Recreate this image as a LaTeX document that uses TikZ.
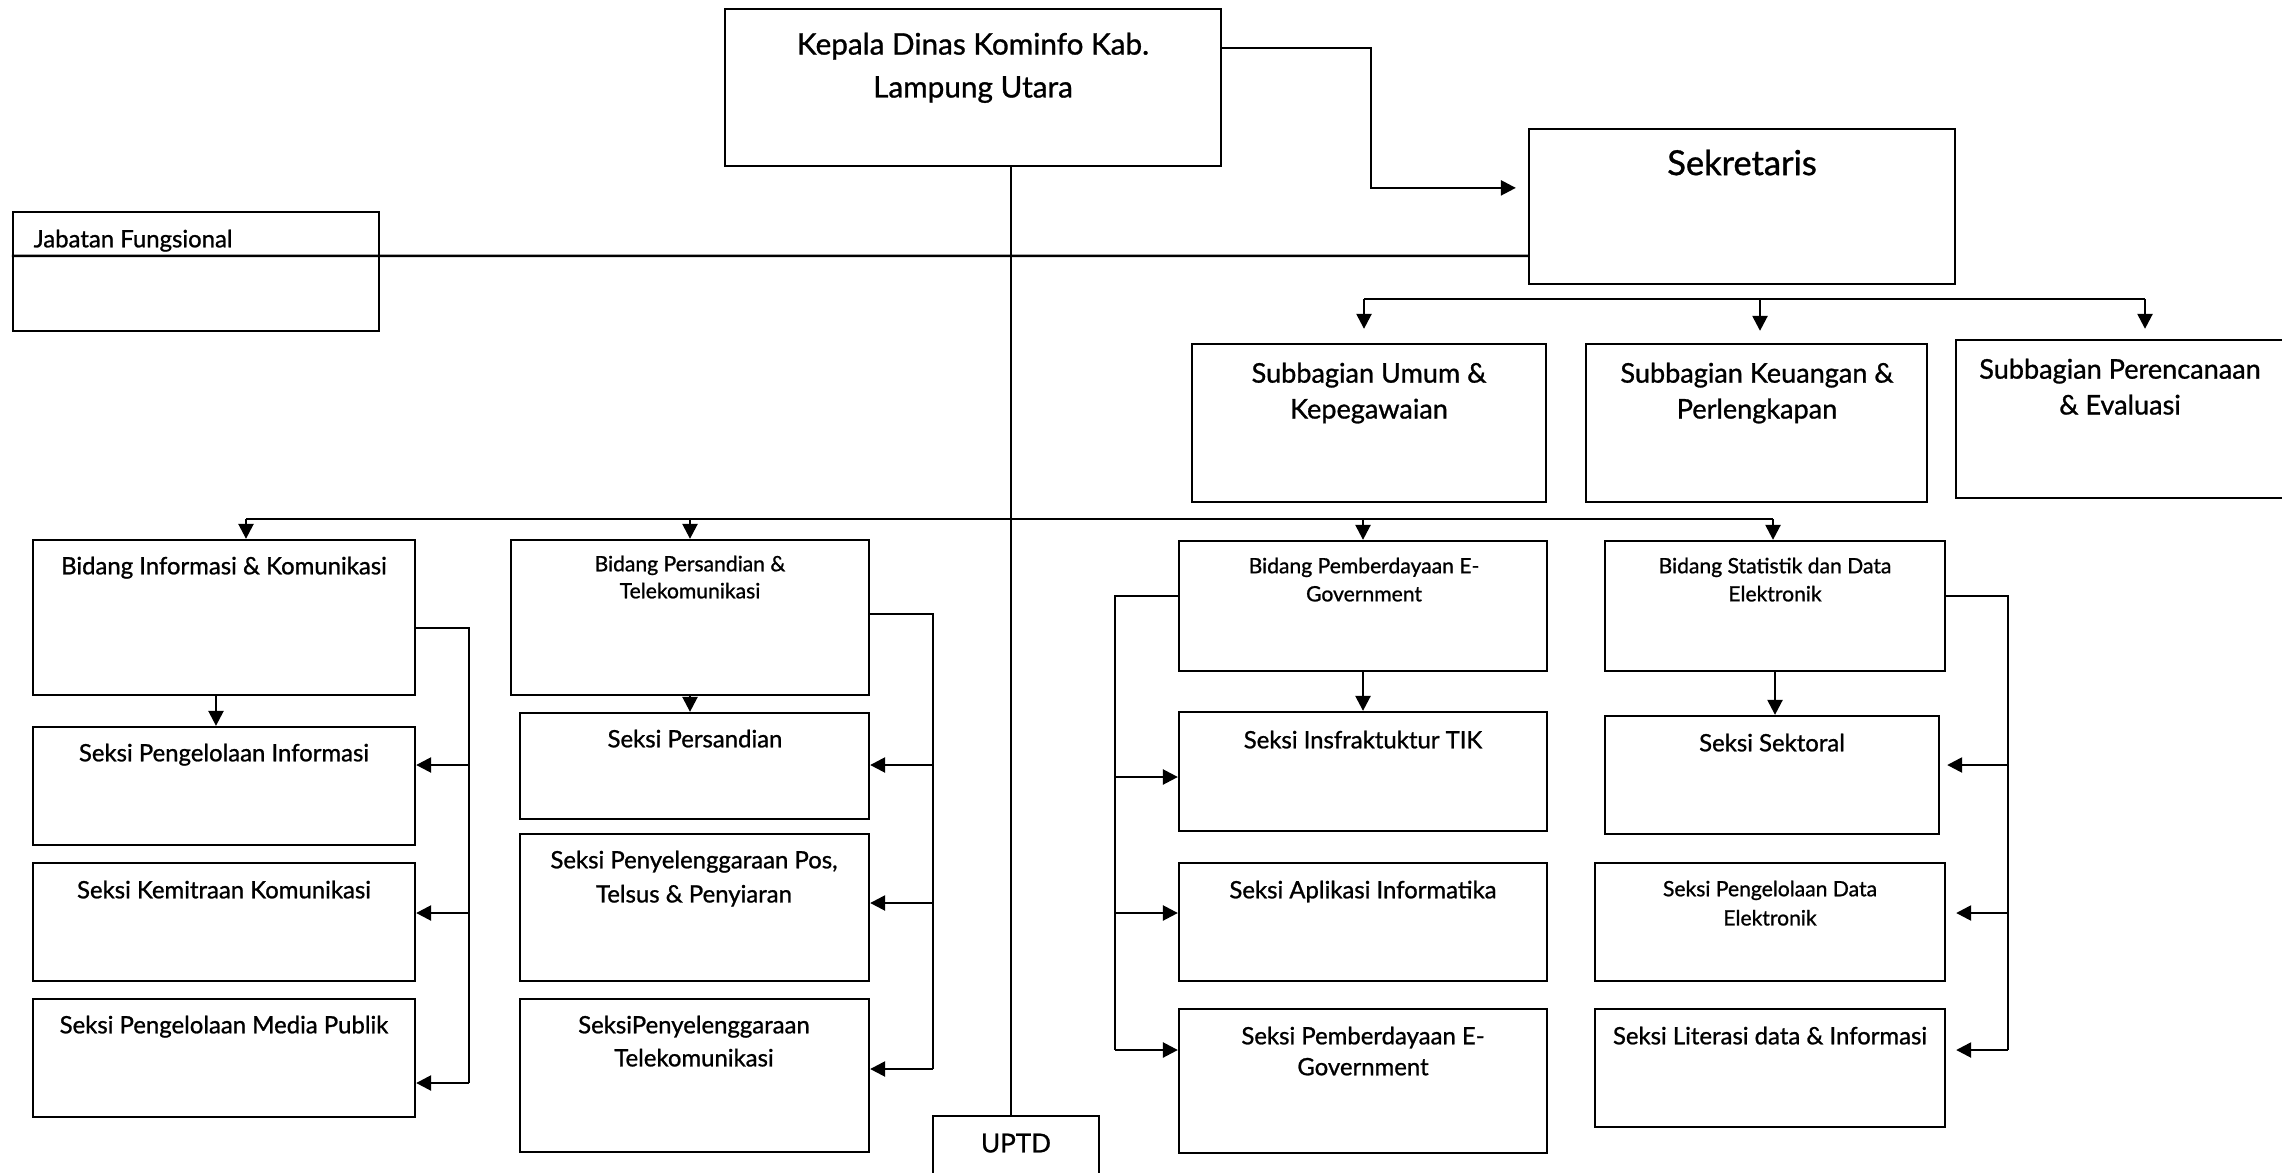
\documentclass[tikz,border=0pt]{standalone}
\usepackage{fontspec}
\setmainfont{Lato}[FakeBold=1.0]
\usetikzlibrary{fit,arrows.meta}
\tikzset{
  bx/.style={draw, line width=0.65pt, inner sep=0pt},
  ln/.style={line width=0.7pt},
  arr/.style={line width=0.7pt, -{Triangle[length=0.15cm,width=0.15cm]}},
  tx/.style={align=center, anchor=north, inner sep=0pt},
  fK/.style={font=\fontsize{8.45}{12.2}\selectfont},
  fS/.style={font=\fontsize{9.8}{12}\selectfont},
  fSub/.style={font=\fontsize{7.7}{10.2}\selectfont},
  fN/.style={font=\fontsize{6.8}{9.6}\selectfont},
  fSm/.style={font=\fontsize{6.0}{7.7}\selectfont},
}
\begin{document}
\begin{tikzpicture}[x=0.01cm,y=-0.01cm]
\fill[white] (0,0) rectangle (2282,1173);
\useasboundingbox (0,0) rectangle (2282,1173);
% boxes
\node[bx, fit={(725,9)(1221,166)}] (kepala) {};
\node[bx, fit={(1529,129)(1955,284)}] (sek) {};
\node[bx, fit={(13,212)(379,331)}] (jab) {};
\node[bx, fit={(1192,344)(1546,502)}] (sub1) {};
\node[bx, fit={(1586,344)(1927,502)}] (sub2) {};
\node[bx, fit={(1956,340)(2292,498)}] (sub3) {};
\node[bx, fit={(33,540)(415,695)}] (bid1) {};
\node[bx, fit={(33,727)(415,845)}] (s11) {};
\node[bx, fit={(33,863)(415,981)}] (s12) {};
\node[bx, fit={(33,999)(415,1117)}] (s13) {};
\node[bx, fit={(511,540)(869,695)}] (bid2) {};
\node[bx, fit={(520,713)(869,819)}] (s21) {};
\node[bx, fit={(520,834)(869,981)}] (s22) {};
\node[bx, fit={(520,999)(869,1152)}] (s23) {};
\node[bx, fit={(1179,541)(1547,671)}] (bid3) {};
\node[bx, fit={(1179,712)(1547,831)}] (s31) {};
\node[bx, fit={(1179,863)(1547,981)}] (s32) {};
\node[bx, fit={(1179,1009)(1547,1153)}] (s33) {};
\node[bx, fit={(1605,541)(1945,671)}] (bid4) {};
\node[bx, fit={(1605,716)(1939,834)}] (s41) {};
\node[bx, fit={(1595,863)(1945,981)}] (s42) {};
\node[bx, fit={(1595,1009)(1945,1127)}] (s43) {};
\node[bx, fit={(933,1116)(1099,1190)}] (uptd) {};
% texts
\node[tx, fK] (tkepala) at (973,32) {Kepala Dinas Kominfo Kab.\\Lampung Utara};
\node[tx, fS] (tsek) at (1742,149) {Sekretaris};
\node[tx, fN, anchor=north west] (tjab) at (33,229) {Jabatan Fungsional};
\node[tx, fSub] (tsub1) at (1369,362) {Subbagian Umum \&\\Kepegawaian};
\node[tx, fSub] (tsub2) at (1757,362) {Subbagian Keuangan \&\\Perlengkapan};
\node[tx, fSub] (tsub3) at (2120,358) {Subbagian Perencanaan\\\& Evaluasi};
\node[tx, fN] (tbid1) at (224,556) {Bidang Informasi \& Komunikasi};
\node[tx, fSm] (tbid2) at (690,555) {Bidang Persandian \&\\Telekomunikasi};
\node[tx, fN] (ts11) at (224,743) {Seksi Pengelolaan Informasi};
\node[tx, fN] (ts12) at (224,880) {Seksi Kemitraan Komunikasi};
\node[tx, fN] (ts13) at (224,1015) {Seksi Pengelolaan Media Publik};
\node[tx, fN] (ts21) at (695,729) {Seksi Persandian};
\node[tx, font=\fontsize{6.8}{9.7}\selectfont] (ts22) at (694,850) {Seksi Penyelenggaraan Pos,\\Telsus \& Penyiaran};
\node[tx, font=\fontsize{6.8}{9.4}\selectfont] (ts23) at (694,1015) {SeksiPenyelenggaraan\\Telekomunikasi};
\node[tx, font=\fontsize{6.0}{8}\selectfont] (tbid3) at (1364,557) {Bidang Pemberdayaan E-\\Government};
\node[tx, font=\fontsize{6.0}{8}\selectfont] (tbid4) at (1775,557) {Bidang Statistik dan Data\\Elektronik};
\node[tx, fN] (ts31) at (1363,730) {Seksi Insfraktuktur TIK};
\node[tx, fN] (ts32) at (1363,880) {Seksi Aplikasi Informatika};
\node[tx, font=\fontsize{6.8}{8.8}\selectfont] (ts33) at (1363,1026) {Seksi Pemberdayaan E-\\Government};
\node[tx, fN] (ts41) at (1772,733) {Seksi Sektoral};
\node[tx, font=\fontsize{6.0}{8.3}\selectfont] (ts42) at (1770,880) {Seksi Pengelolaan Data\\Elektronik};
\node[tx, fN] (ts43) at (1770,1026) {Seksi Literasi data \& Informasi};
\node[tx, font=\fontsize{7.4}{9}\selectfont] (tuptd) at (1016,1133) {UPTD};
% coordinates
\coordinate (mvt) at ([xshift=0.38cm]kepala.south);
\coordinate (sb1) at (1364,299);
\coordinate (sb2) at (1760,299);
\coordinate (sb3) at (2145,299);
\coordinate (mbL) at (246,519);
\coordinate (mbR) at (1773,519);
\coordinate (j11) at (469,765);
\coordinate (j12) at (469,913);
\coordinate (j13) at (469,1083);
\coordinate (j21) at (933,765);
\coordinate (j22) at (933,903);
\coordinate (j23) at (933,1069);
\coordinate (j31) at (1115,777);
\coordinate (j32) at (1115,913);
\coordinate (j33) at (1115,1050);
\coordinate (j41) at (2008,765);
\coordinate (j42) at (2008,913);
\coordinate (j43) at (2008,1050);
% connectors
\draw[arr] ([yshift=-0.40cm]kepala.north east) -- ++(149,0) |- ([xshift=-0.12cm,yshift=-0.60cm]sek.north west);
\draw[ln] (mvt) -- (mvt |- uptd.north);
\draw[ln] ([yshift=-0.45cm]jab.north west) -- ([yshift=-1.28cm]sek.north west);
\draw[ln] (sb1) -- (sb3);
\draw[arr, shorten >=0.14cm] (sb1) -- (sb1 |- sub1.north);
\draw[arr, shorten >=0.12cm] (sb2) -- (sb2 |- sub2.north);
\draw[arr, shorten >=0.10cm] (sb3) -- (sb3 |- sub3.north);
\draw[ln] (mbL) -- (mbR);
\draw[arr] (mbL) -- (mbL |- bid1.north);
\draw[arr] (bid2.north |- mbL) -- (bid2.north);
\draw[arr] (bid3.north |- mbL) -- (bid3.north);
\draw[arr] (mbR) -- (mbR |- bid4.north);
\draw[arr] ([xshift=-0.08cm]bid1.south) -- ([xshift=-0.08cm]s11.north);
\draw[arr] (bid2.south) -- (bid2.south |- s21.north);
\draw[arr] (bid3.south) -- (s31.north);
\draw[arr] (bid4.south) -- (bid4.south |- s41.north);
\draw[ln] ([yshift=-0.89cm]bid1.north east) -| (j13);
\draw[arr] (j11) -- (j11 -| s11.east);
\draw[arr] (j12) -- (j12 -| s12.east);
\draw[arr] (j13) -- (j13 -| s13.east);
\draw[ln] ([yshift=-0.75cm]bid2.north east) -| (j23);
\draw[arr] (j21) -- (j21 -| s21.east);
\draw[arr] (j22) -- (j22 -| s22.east);
\draw[arr] (j23) -- (j23 -| s23.east);
\draw[ln] ([yshift=-0.56cm]bid3.north west) -| (j33);
\draw[arr] (j31) -- (j31 -| s31.west);
\draw[arr] (j32) -- (j32 -| s32.west);
\draw[arr] (j33) -- (j33 -| s33.west);
\draw[ln] ([yshift=-0.56cm]bid4.north east) -| (j43);
\draw[arr, shorten >=0.07cm] (j41) -- (j41 -| s41.east);
\draw[arr, shorten >=0.10cm] (j42) -- (j42 -| s42.east);
\draw[arr, shorten >=0.10cm] (j43) -- (j43 -| s43.east);
\end{tikzpicture}
\end{document}
